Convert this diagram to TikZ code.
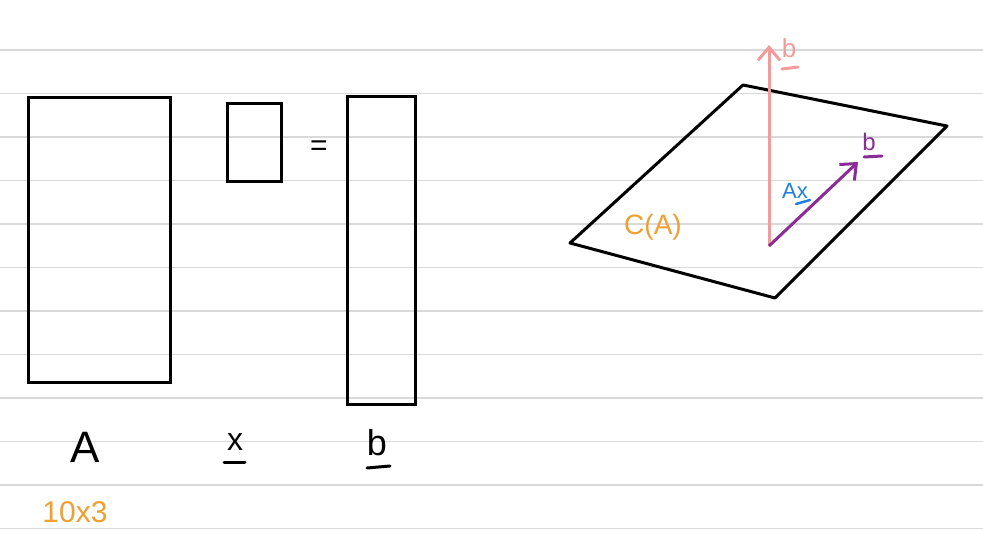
\documentclass[tikz,border=0pt]{standalone}
\usepackage{fontspec}
\setmainfont{Liberation Sans}
\usetikzlibrary{arrows.meta}
\definecolor{rule}{HTML}{D9D9D9}
\definecolor{pinkc}{HTML}{F29B9B}
\definecolor{purplec}{HTML}{8A2D96}
\definecolor{bluec}{HTML}{1F80E0}
\definecolor{orangec}{HTML}{EFA033}
\tikzset{
  box/.style={draw=black, line width=3pt},
  lbl/.style={font=\fontsize{30}{32}\selectfont, inner sep=0pt},
  vec/.style={line width=3pt, -{Straight Barb[length=13pt,width=22pt,line width=3pt]}},
  uline/.style={line width=3pt, line cap=round},
  ruling/.style={draw=rule, line width=1.3pt}
}
\begin{document}
\begin{tikzpicture}[x=1pt,y=-1pt]
\fill[white] (0,0) rectangle (983,554);
\useasboundingbox (0,0) rectangle (983,554);
\foreach \k in {0,...,11} {
  \draw[ruling] (0,{50+43.5*\k}) -- (983,{50+43.5*\k});
}
% matrices
\node[box, minimum width=142pt, minimum height=285pt, inner sep=0pt] (A) at (99,239.5) {};
\node[box, minimum width=54pt, minimum height=78pt, inner sep=0pt] (x) at (254,142) {};
\node[box, minimum width=68pt, minimum height=308pt, inner sep=0pt] (b) at (381,250) {};
\node[lbl] (eq) at (319,148) {=};
\node[lbl, font=\fontsize{44}{46}\selectfont] (Al) at (85,447) {A};
\node[lbl, font=\fontsize{32}{34}\selectfont] (xl) at (235,442) {x};
\draw[uline] (224,462) -- (245,462);
\node[lbl, font=\fontsize{36}{38}\selectfont] (bl) at (377,443) {b};
\draw[uline] (367,468) -- (390,466);
\node[lbl, text=orangec] (dim) at (75,512) {10x3};
% plane
\coordinate (p1) at (570,243);
\coordinate (p2) at (743,85);
\coordinate (p3) at (947,126);
\coordinate (p4) at (775,298);
\draw[line width=3pt, line join=round] (p1) -- (p2) -- (p3) -- (p4) -- cycle;
\coordinate (o) at (769,246);
\coordinate (btop) at (769,45);
\coordinate (bproj) at (858,162);
\draw[vec, draw=pinkc] (o) -- (btop);
\draw[vec, draw=purplec] (o) -- (bproj);
\node[lbl, text=pinkc, font=\fontsize{26}{28}\selectfont] (bt) at (789,48) {b};
\draw[uline, pinkc] (782,69) -- (798,67);
\node[lbl, text=purplec, font=\fontsize{24}{26}\selectfont] (bp) at (869,142) {b};
\draw[uline, purplec] (864,157) -- (882,156);
\node[lbl, text=bluec, font=\fontsize{22}{24}\selectfont] (Ax) at (795,191) {Ax};
\draw[uline, bluec, line width=2.5pt] (796,204) -- (810,200);
\node[lbl, text=orangec, font=\fontsize{28}{30}\selectfont] (CA) at (653,227) {C(A)};
\end{tikzpicture}
\end{document}
